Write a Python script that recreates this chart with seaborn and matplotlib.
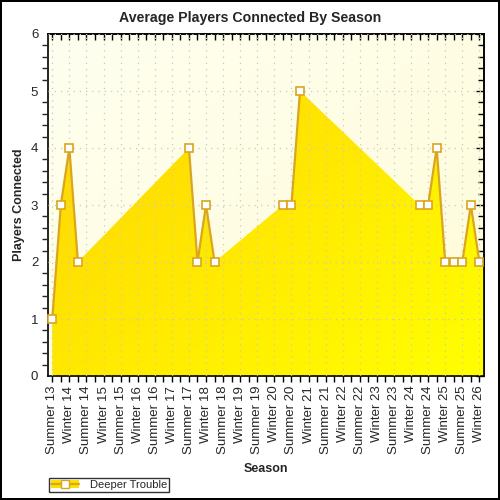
import numpy as np
import matplotlib
matplotlib.use("Agg")
import matplotlib.pyplot as plt
import seaborn as sns
from matplotlib.colors import LinearSegmentedColormap
from matplotlib.lines import Line2D
from matplotlib.patches import Patch
from matplotlib.ticker import MultipleLocator

# Etiquetas del eje X (una por temporada)
season_labels = ["Summer 13", "Winter 14", "Summer 14", "Winter 15", "Summer 15", "Winter 16",
                 "Summer 16", "Winter 17", "Summer 17", "Winter 18", "Summer 18", "Winter 19",
                 "Summer 19", "Winter 20", "Summer 20", "Winter 21", "Summer 21", "Winter 22",
                 "Summer 22", "Winter 23", "Summer 23", "Winter 24", "Summer 24", "Winter 25",
                 "Summer 25", "Winter 26"]

# Posicion de cada medicion (en temporadas) y jugadores promedio
season_pos = [0, 0.5, 1, 1.5, 8, 8.5, 9, 9.5, 13.5, 14, 14.5,
              21.5, 22, 22.5, 23, 23.5, 24, 24.5, 25]
players = [1, 3, 4, 2, 4, 2, 3, 2, 3, 3, 5,
           3, 3, 4, 2, 2, 2, 3, 2]

series_name = "Deeper Trouble"

# La linea se corta donde faltan mediciones consecutivas
segment = [0]
for a, b in zip(season_pos[:-1], season_pos[1:]):
    segment.append(segment[-1] + (1 if b - a > 0.5 else 0))

sns.set_theme(style="white")
plt.rcParams["font.family"] = ["Liberation Sans", "DejaVu Sans"]

fig = plt.figure(figsize=(5, 5), dpi=100)
fig.patch.set_edgecolor("black")
fig.patch.set_linewidth(1.5)
ax = fig.add_axes([0.096, 0.248, 0.872, 0.684])

xmin, xmax = -0.25, 25.27
ax.set_xlim(xmin, xmax)
ax.set_ylim(0, 6)

# Fondo con degradado suave
bg = LinearSegmentedColormap.from_list("bg", ["#FFFFF0", "#FEFCD8"])
gx, gy = np.meshgrid(np.linspace(0, 1, 200), np.linspace(0, 1, 200))
ax.imshow((gx + gy) / 2, cmap=bg, extent=[xmin, xmax, 0, 6], aspect="auto",
          origin="upper", zorder=0)

# Area con degradado dorado -> amarillo
xs = list(season_pos) + [xmax]
ys = list(players) + [players[-1]]
poly = ax.fill_between(xs, ys, 0, color="none", zorder=1)
fillmap = LinearSegmentedColormap.from_list("fill", ["#FFD000", "#FFE800", "#FFFF00"])
img = ax.imshow((gx + gy) / 2, cmap=fillmap, extent=[xmin, xmax, 0, 6], aspect="auto",
                origin="upper", zorder=1)
img.set_clip_path(poly.get_paths()[0], transform=ax.transData)

ax.grid(True, color="#C8C8C8", linestyle=(0, (1, 4)), linewidth=0.9, zorder=1.5)
ax.set_axisbelow(False)

sns.lineplot(x=season_pos, y=players, units=segment, estimator=None, ax=ax,
             color="#DAA520", linewidth=1.6, marker="s", markersize=5.2,
             markerfacecolor="white", markeredgecolor="#DAA520",
             markeredgewidth=1.2, zorder=3, clip_on=False)

ax.set_xticks(range(len(season_labels)))
ax.set_xticklabels(season_labels, rotation=90, fontsize=9)
ax.xaxis.set_minor_locator(MultipleLocator(0.5))
ax.yaxis.set_major_locator(MultipleLocator(1))
ax.yaxis.set_minor_locator(MultipleLocator(0.2))
ax.tick_params(axis="y", which="major", direction="inout", length=7, width=1,
               labelsize=9.5, color="black")
ax.tick_params(axis="y", which="minor", direction="out", length=4, width=1, left=True)
ax.tick_params(axis="x", which="both", direction="out", length=4, width=1,
               labelsize=9.5, bottom=True, color="black", pad=3)
for s in ax.spines.values():
    s.set_color("black")
    s.set_linewidth(1.2)

# Marcas interiores arriba y a la derecha
top = ax.secondary_xaxis("top")
top.xaxis.set_major_locator(MultipleLocator(0.5))
top.tick_params(direction="in", length=4, width=1, labeltop=False, color="black")
right = ax.secondary_yaxis("right")
right.yaxis.set_major_locator(MultipleLocator(1))
right.yaxis.set_minor_locator(MultipleLocator(0.2))
right.tick_params(which="major", direction="in", length=6, width=1, labelright=False, color="black")
right.tick_params(which="minor", direction="in", length=4, width=1, color="black")
for s in list(top.spines.values()) + list(right.spines.values()):
    s.set_linewidth(1.2)

fig.text(0.5, 0.964, "Average Players Connected By Season", ha="center", va="center",
         fontsize=10.2, fontweight="bold")
ax.set_xlabel("Season", fontsize=9, fontweight="bold", labelpad=6)
ax.set_ylabel("Players Connected", fontsize=9, fontweight="bold", labelpad=4)

handle = (Patch(facecolor="#FFE000", edgecolor="none"),
          Line2D([], [], color="#DAA520", linewidth=1.6, marker="s", markersize=5.2,
                 markerfacecolor="white", markeredgecolor="#DAA520"))
leg = fig.legend([handle], [series_name], loc="lower left", bbox_to_anchor=(0.086, 0.004),
                 fontsize=8, frameon=True, fancybox=False, handlelength=2.5,
                 borderpad=0.2, handletextpad=1.0)
leg.get_frame().set_edgecolor("black")
leg.get_frame().set_linewidth(1)

fig.savefig("out.png", dpi=100)
